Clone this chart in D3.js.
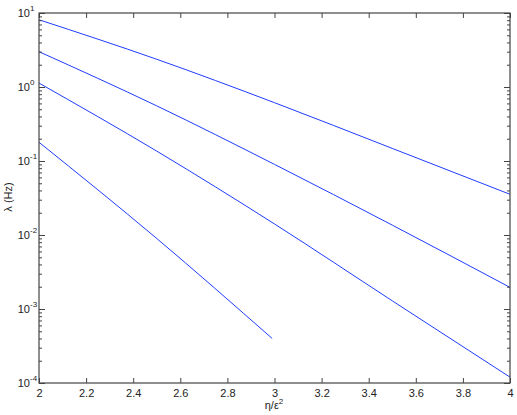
<!DOCTYPE html>
<html><head><meta charset="utf-8">
<script src="https://cdn.jsdelivr.net/npm/d3@7"></script>
<style>body{margin:0;background:#fff;} svg{display:block;} text{font-family:"Liberation Sans",Arial,sans-serif;}</style>
</head><body>
<svg id="c" width="517" height="415"></svg>
<script>
const xValues = [2, 2.5, 3, 3.5, 4];
const series1 = [8.1, 2.37, 0.614, 0.148, 0.0355];
const series2 = [3.0, 0.556, 0.090, 0.0136, 0.00196];
const series3 = [1.13, 0.136, 0.0141, 0.00129, 0.00012];
const xValues4 = [2, 2.5, 2.99];
const series4 = [0.179, 0.00897, 0.0004];
const xTicks = [2, 2.2, 2.4, 2.6, 2.8, 3, 3.2, 3.4, 3.6, 3.8, 4];
const yDecades = [-4, -3, -2, -1, 0, 1];

const svg = d3.select("#c");
const L = 39, R = 510, T = 13, B = 383;
const x = d3.scaleLinear().domain([2, 4]).range([L, R]);
const y = d3.scaleLog().domain([1e-4, 10]).range([B, T]);
const axisColor = "#444";

const lines = [
  {xs: xValues, ys: series1},
  {xs: xValues, ys: series2},
  {xs: xValues, ys: series3},
  {xs: xValues4, ys: series4}
];
const lineGen = d3.line().x(d => x(d[0])).y(d => y(d[1])).curve(d3.curveMonotoneX);
const clip = svg.append("clipPath").attr("id","clp").append("rect")
  .attr("x", L).attr("y", T).attr("width", R-L).attr("height", B-T);
svg.append("g").attr("clip-path","url(#clp)").selectAll("path").data(lines).join("path")
  .attr("d", d => lineGen(d.xs.map((v,i)=>[v, d.ys[i]])))
  .attr("fill","none").attr("stroke","#1f3dff").attr("stroke-width",1);

// x axes (bottom & top), ticks inward
const gxB = svg.append("g").attr("transform",`translate(0,${B})`)
  .call(d3.axisBottom(x).tickValues(xTicks).tickSize(-5).tickPadding(6).tickFormat(d3.format("")));
const gxT = svg.append("g").attr("transform",`translate(0,${T})`)
  .call(d3.axisTop(x).tickValues(xTicks).tickSize(-5).tickFormat(""));
// y axes: major
const majors = yDecades.map(e => Math.pow(10, e));
const minors = y.ticks().filter(v => !majors.some(m => Math.abs(m - v) / v < 1e-9));
const gyL = svg.append("g").attr("transform",`translate(${L},0)`)
  .call(d3.axisLeft(y).tickValues(majors).tickSize(-6).tickFormat(""));
const gyR = svg.append("g").attr("transform",`translate(${R},0)`)
  .call(d3.axisRight(y).tickValues(majors).tickSize(-6).tickFormat(""));
const gyLm = svg.append("g").attr("transform",`translate(${L},0)`)
  .call(d3.axisLeft(y).tickValues(minors).tickSize(-3).tickFormat(""));
const gyRm = svg.append("g").attr("transform",`translate(${R},0)`)
  .call(d3.axisRight(y).tickValues(minors).tickSize(-3).tickFormat(""));
[gxB,gxT,gyL,gyR,gyLm,gyRm].forEach(g => {
  g.select(".domain").remove();
  g.selectAll("line").attr("stroke", axisColor);
  g.selectAll("text").attr("fill","#222").style("font-size","11px");
});
svg.append("rect").attr("x",L).attr("y",T).attr("width",R-L).attr("height",B-T)
  .attr("fill","none").attr("stroke",axisColor).attr("stroke-width",1.2);

// y tick labels with superscripts
const yl = svg.append("g");
yDecades.forEach(e => {
  const t = yl.append("text").attr("x", 30).attr("y", y(Math.pow(10,e)) + 4)
    .attr("text-anchor","end").attr("fill","#222").style("font-size","11px");
  t.append("tspan").text("10");
  yl.append("text").attr("x", 30).attr("y", y(Math.pow(10,e)) - 2)
    .attr("fill","#222").style("font-size","8px").text(String(e));
});

// axis labels
const xl = svg.append("text").attr("x", 274).attr("y", 409).attr("text-anchor","middle")
  .attr("fill","#222").style("font-size","11px");
xl.append("tspan").text("η/ε");
xl.append("tspan").attr("dy",-5).style("font-size","8px").text("2");
svg.append("text").attr("transform","translate(12,197) rotate(-90)").attr("text-anchor","middle")
  .attr("fill","#222").style("font-size","11px").text("λ (Hz)");
</script>
</body></html>
